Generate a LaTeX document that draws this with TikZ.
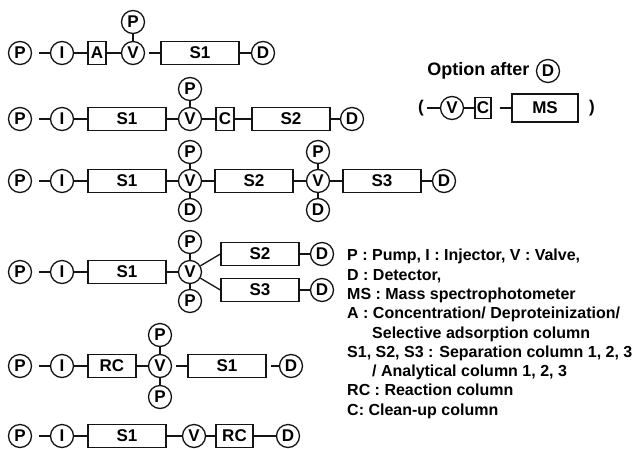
\documentclass[tikz,border=0pt]{standalone}
\usepackage{fontspec}
\setmainfont{Liberation Sans}
\definecolor{ink}{RGB}{20,20,20}
\tikzset{
  port/.style={circle, draw=ink, line width=1.3pt, inner sep=0pt, minimum size=23pt,
              font=\fontsize{17}{17}\selectfont\bfseries},
  column/.style={draw=ink, line width=1.3pt, inner sep=0pt, minimum height=23pt,
              font=\fontsize{17}{17}\selectfont\bfseries},
  pipe/.style={ink, line width=1.3pt},
  gap/.style={shorten <=#1},
}

\begin{document}
\begin{tikzpicture}[x=1pt,y=-1pt]
    \useasboundingbox (0,0) rectangle (637,448);
    % --- line 1 ---
    \node[port] (ap) at (20,53) {P};
    \node[port] (ai) at (62,53) {I};
    \node[column,minimum width=18pt] (aa) at (97,53) {A};
    \node[port] (av) at (133,53) {V};
    \node[port] (avp) at (133,22) {P};
    \node[column,minimum width=78pt] (as) at (200,53) {S1};
    \node[port] (ad) at (263,53) {D};
    \draw[pipe,gap=7pt] (ap) -- (ai);
    \draw[pipe] (ai) -- (aa);
    \draw[pipe] (aa) -- (av);
    \draw[pipe] (avp) -- (av);
    \draw[pipe,gap=4pt] (av) -- (as);
    \draw[pipe] (as) -- (ad);
    % --- line 2 ---
    \node[port] (bp) at (20,119) {P};
    \node[port] (bi) at (62,119) {I};
    \node[column,minimum width=78pt] (bs) at (127,119) {S1};
    \node[port] (bv) at (190,119) {V};
    \node[port] (bvp) at (190,89) {P};
    \node[column,minimum width=18pt] (bc) at (225,119) {C};
    \node[column,minimum width=78pt] (bt) at (291,119) {S2};
    \node[port] (bd) at (352,119) {D};
    \draw[pipe,gap=7pt] (bp) -- (bi);
    \draw[pipe] (bi) -- (bs);
    \draw[pipe] (bs) -- (bv);
    \draw[pipe] (bvp) -- (bv);
    \draw[pipe] (bv) -- (bc);
    \draw[pipe] (bc) -- (bt);
    \draw[pipe] (bt) -- (bd);
    % --- line 3 ---
    \node[port] (cp) at (20,181) {P};
    \node[port] (ci) at (62,181) {I};
    \node[column,minimum width=78pt] (cs) at (127,181) {S1};
    \node[port] (cv) at (190,181) {V};
    \node[port] (cvp) at (190,152) {P};
    \node[port] (cvd) at (190,210) {D};
    \node[column,minimum width=78pt] (ct) at (254,181) {S2};
    \node[port] (cw) at (318,181) {V};
    \node[port] (cwp) at (318,152) {P};
    \node[port] (cwd) at (318,210) {D};
    \node[column,minimum width=78pt] (cu) at (382,181) {S3};
    \node[port] (cd) at (444,181) {D};
    \draw[pipe,gap=7pt] (cp) -- (ci);
    \draw[pipe] (ci) -- (cs);
    \draw[pipe] (cs) -- (cv);
    \draw[pipe] (cvp) -- (cv);
    \draw[pipe] (cv) -- (cvd);
    \draw[pipe] (cv) -- (ct);
    \draw[pipe] (ct) -- (cw);
    \draw[pipe] (cwp) -- (cw);
    \draw[pipe] (cw) -- (cwd);
    \draw[pipe] (cw) -- (cu);
    \draw[pipe] (cu) -- (cd);
    % --- line 4 ---
    \node[port] (dp) at (20,272) {P};
    \node[port] (di) at (62,272) {I};
    \node[column,minimum width=78pt] (ds) at (127,272) {S1};
    \node[port] (dv) at (190,272) {V};
    \node[port] (dvp) at (190,242) {P};
    \node[port] (dvq) at (190,301) {P};
    \node[column,minimum width=78pt] (dt) at (260,254) {S2};
    \node[column,minimum width=78pt] (du) at (260,290) {S3};
    \node[port] (dtd) at (322,254) {D};
    \node[port] (dud) at (322,290) {D};
    \draw[pipe,gap=7pt] (dp) -- (di);
    \draw[pipe] (di) -- (ds);
    \draw[pipe] (ds) -- (dv);
    \draw[pipe] (dvp) -- (dv);
    \draw[pipe] (dv) -- (dvq);
    \draw[pipe] (dv) -- (dt.west);
    \draw[pipe] (dv) -- (du.west);
    \draw[pipe] (dt) -- (dtd);
    \draw[pipe] (du) -- (dud);
    % --- line 5 ---
    \node[port] (ep) at (20,366) {P};
    \node[port] (ei) at (62,366) {I};
    \node[column,minimum width=48pt] (er) at (112,366) {RC};
    \node[port] (ev) at (160,366) {V};
    \node[port] (evp) at (160,335) {P};
    \node[port] (evq) at (160,397) {P};
    \node[column,minimum width=78pt] (es) at (227,366) {S1};
    \node[port] (ed) at (291,366) {D};
    \draw[pipe,gap=7pt] (ep) -- (ei);
    \draw[pipe] (ei) -- (er);
    \draw[pipe] (er) -- (ev);
    \draw[pipe] (evp) -- (ev);
    \draw[pipe] (ev) -- (evq);
    \draw[pipe,gap=4pt] (ev) -- (es);
    \draw[pipe,gap=4pt] (es) -- (ed);
    % --- line 6 ---
    \node[port] (fp) at (20,436) {P};
    \node[port] (fi) at (62,436) {I};
    \node[column,minimum width=78pt] (fs) at (127,436) {S1};
    \node[port] (fv) at (194,436) {V};
    \node[column,minimum width=37pt] (fr) at (234.5,436) {RC};
    \node[port] (fd) at (288,436) {D};
    \draw[pipe,gap=7pt] (fp) -- (fi);
    \draw[pipe] (fi) -- (fs);
    \draw[pipe] (fs) -- (fv);
    \draw[pipe] (fv) -- (fr);
    \draw[pipe] (fr) -- (fd);
    % --- option after D ---
    \node[font=\fontsize{18}{18}\selectfont\bfseries,anchor=east] (ot) at (533,71) {Option after};
    \node[port] (od) at (548,71) {D};
    \node[font=\fontsize{17}{17}\selectfont\bfseries] (ol) at (421,108) {(};
    \node[port] (ov) at (452,108) {V};
    \node[column,minimum width=16pt,minimum height=21pt] (oc) at (483,108) {C};
    \node[column,minimum width=66pt,minimum height=28pt] (om) at (545,108) {MS};
    \node[font=\fontsize{17}{17}\selectfont\bfseries] (or) at (592,108) {)};
    \draw[pipe] (ol) -- (ov);
    \draw[pipe] (ov) -- (oc);
    \draw[pipe,gap=8pt] (oc) -- (om);
    % --- legend ---
    \node[font=\fontsize{16}{19.3}\selectfont\bfseries,anchor=north west,align=left,inner sep=0pt]
      (key) at (347,249)
      {P : Pump, I : Injector, V : Valve,\\
       D : Detector,\\
       MS : Mass spectrophotometer\\
       A : Concentration/ Deproteinization/\\
       \hspace*{25pt}Selective adsorption column\\
       S1, S2, S3 : Separation column 1, 2, 3\\
       \hspace*{25pt}/ Analytical column 1, 2, 3\\
       RC : Reaction column\\
       C: Clean-up column};
\end{tikzpicture}
\end{document}
